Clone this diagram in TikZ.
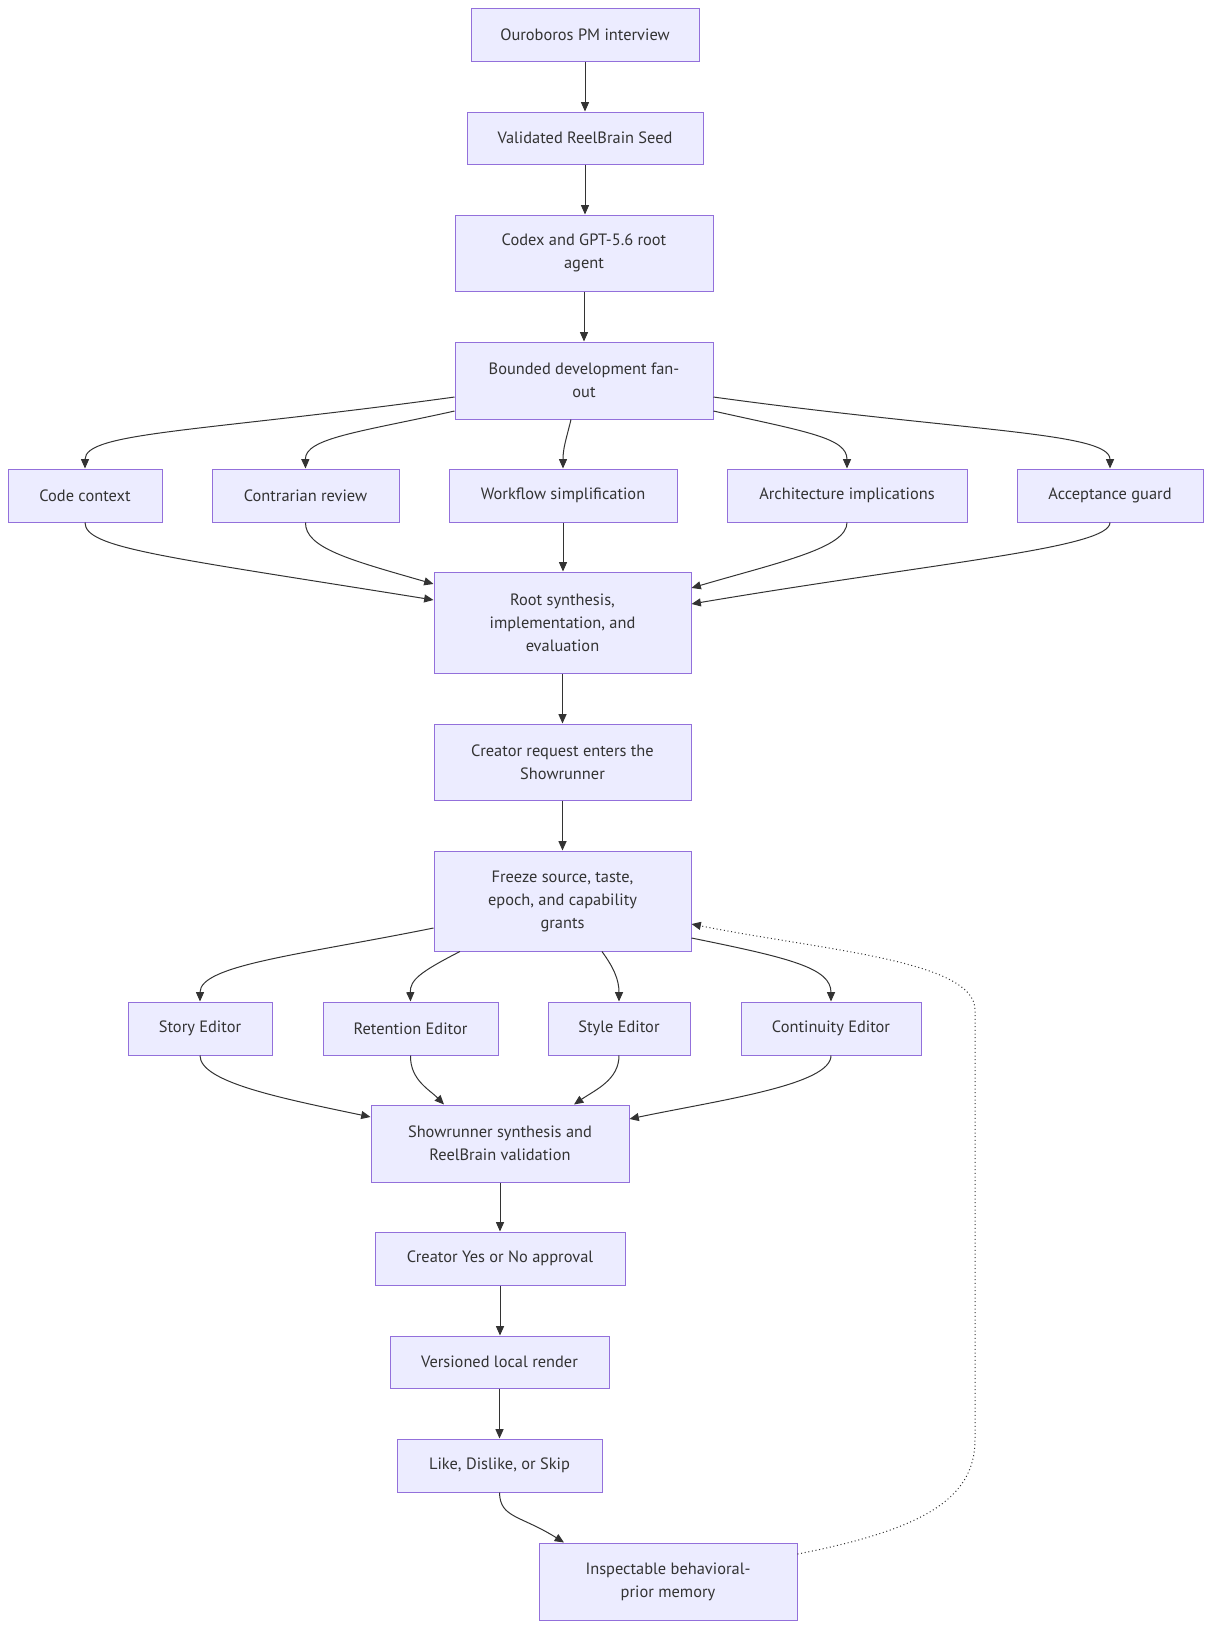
\documentclass[tikz,border=0pt]{standalone}
\usepackage{fontspec}
\setmainfont{PT Sans}
\usetikzlibrary{arrows.meta}
\definecolor{nodefill}{HTML}{ECECFF}
\definecolor{nodeline}{HTML}{9370DB}
\definecolor{edgec}{HTML}{333333}
\tikzset{
 box/.style={draw=nodeline, fill=nodefill, line width=0.75pt, rectangle, inner sep=0pt, align=center, text=edgec, font=\fontsize{12.3}{17.25}\selectfont},
 link/.style={draw=edgec, line width=0.75pt, -{Triangle[length=7pt,width=6pt]}},
 fbloop/.style={link, dotted}
}
\newcommand\mybox[6]{\node[box, minimum width={(#4-#2)*0.75pt}, minimum height={(#5-#3)*0.75pt}] (#1) at ({(#2+#4)/2},{(#3+#5)/2}) {#6};}
\begin{document}
\begin{tikzpicture}[x=0.75pt,y=-0.75pt]
\useasboundingbox (0,0) rectangle (1220,1638);
\mybox{A}{471}{8}{699}{61}{Ouroboros PM interview}
\mybox{V}{467}{112}{703}{164}{Validated ReelBrain Seed}
\mybox{G}{455}{215}{713}{291}{Codex and GPT-5.6 root\\agent}
\mybox{B}{455}{342}{713}{419}{Bounded development fan-\\out}
\mybox{CC}{8}{469}{162}{522}{Code context}
\mybox{CR}{212}{469}{399}{522}{Contrarian review}
\mybox{WS}{449}{469}{677}{522}{Workflow simplification}
\mybox{AI}{727}{469}{967}{522}{Architecture implications}
\mybox{AG}{1017}{469}{1203}{522}{Acceptance guard}
\mybox{R}{434}{572}{691}{673}{Root synthesis,\\implementation, and\\evaluation}
\mybox{CQ}{434}{724}{691}{800}{Creator request enters the\\Showrunner}
\mybox{F}{434}{851}{691}{951}{Freeze source, taste,\\epoch, and capability\\grants}
\mybox{SE}{128}{1002}{272}{1055}{Story Editor}
\mybox{RE}{323}{1002}{498}{1055}{Retention Editor}
\mybox{ST}{548}{1002}{690}{1055}{Style Editor}
\mybox{CE}{741}{1002}{921}{1055}{Continuity Editor}
\mybox{S}{371}{1105}{629}{1182}{Showrunner synthesis and\\ReelBrain validation}
\mybox{Y}{375}{1232}{625}{1285}{Creator Yes or No approval}
\mybox{VR}{390}{1336}{609}{1388}{Versioned local render}
\mybox{L}{397}{1439}{602}{1492}{Like, Dislike, or Skip}
\mybox{M}{539}{1543}{797}{1620}{Inspectable behavioral-\\prior memory}
% straight links
\draw[link] (A.south) -- (A.south |- V.north);
\draw[link] (V.south) -- (V.south |- G.north);
\draw[link] (G.south) -- (B.north);
\draw[link] (R.south) -- (CQ.north);
\draw[link] (CQ.south) -- (F.north);
\draw[link] (S.south) -- (S.south |- Y.north);
\draw[link] (Y.south) -- (Y.south |- VR.north);
\draw[link] (VR.south) -- (VR.south |- L.north);
% fan-out from B
\draw[link] ([yshift=-12.4pt]B.west) .. controls (200,432) and (85,432) .. (CC.north);
\draw[link] ([yshift=-22.9pt]B.west) .. controls (360,432) and (305,438) .. (CR.north);
\draw[link] ([xshift=-9.75pt]B.south) .. controls (566,440) and (563,448) .. (WS.north);
\draw[link] ([yshift=-22.9pt]B.east) .. controls (808,432) and (847,438) .. (AI.north);
\draw[link] ([yshift=-12.4pt]B.east) .. controls (968,432) and (1110,432) .. (AG.north);
% fan-in to R
\draw[link] (CC.south) .. controls (85,548) and (160,556) .. ([yshift=16.9pt]R.west);
\draw[link] (CR.south) .. controls (305,548) and (350,560) .. ([yshift=28.9pt]R.west);
\draw[link] (WS.south) -- (WS.south |- R.north);
\draw[link] (AI.south) .. controls (847,548) and (780,562) .. ([yshift=25.9pt]R.east);
\draw[link] (AG.south) .. controls (1110,548) and (940,562) .. ([yshift=13.9pt]R.east);
% fan-out from F
\draw[link] ([yshift=-20.25pt]F.west) .. controls (300,955) and (200,965) .. (SE.north);
\draw[link] ([xshift=-76.9pt]F.south) .. controls (420,972) and (410,980) .. (RE.north);
\draw[link] ([xshift=29.6pt]F.south) .. controls (614,968) and (619,980) .. (ST.north);
\draw[link] ([yshift=-27.75pt]F.east) .. controls (790,958) and (831,968) .. (CE.north);
% fan-in to S
\draw[link] (SE.south) .. controls (200,1082) and (280,1098) .. ([yshift=19.9pt]S.west);
\draw[link] (RE.south) .. controls (410,1080) and (430,1090) .. ([xshift=-42pt]S.north);
\draw[link] (ST.south) .. controls (619,1080) and (595,1090) .. ([xshift=55.5pt]S.north);
\draw[link] (CE.south) .. controls (831,1085) and (720,1100) .. ([yshift=18.4pt]S.east);
% to memory
\draw[link] (L.south) .. controls (500,1518) and (520,1515) .. ([xshift=-78pt]M.north);
% feedback loop
\draw[fbloop] ([yshift=20.6pt]M.east) .. controls (920,1530) and (975,1500) .. (975,1440) -- (975,1010) .. controls (975,960) and (820,950) .. ([yshift=-17.25pt]F.east);
\end{tikzpicture}
\end{document}
